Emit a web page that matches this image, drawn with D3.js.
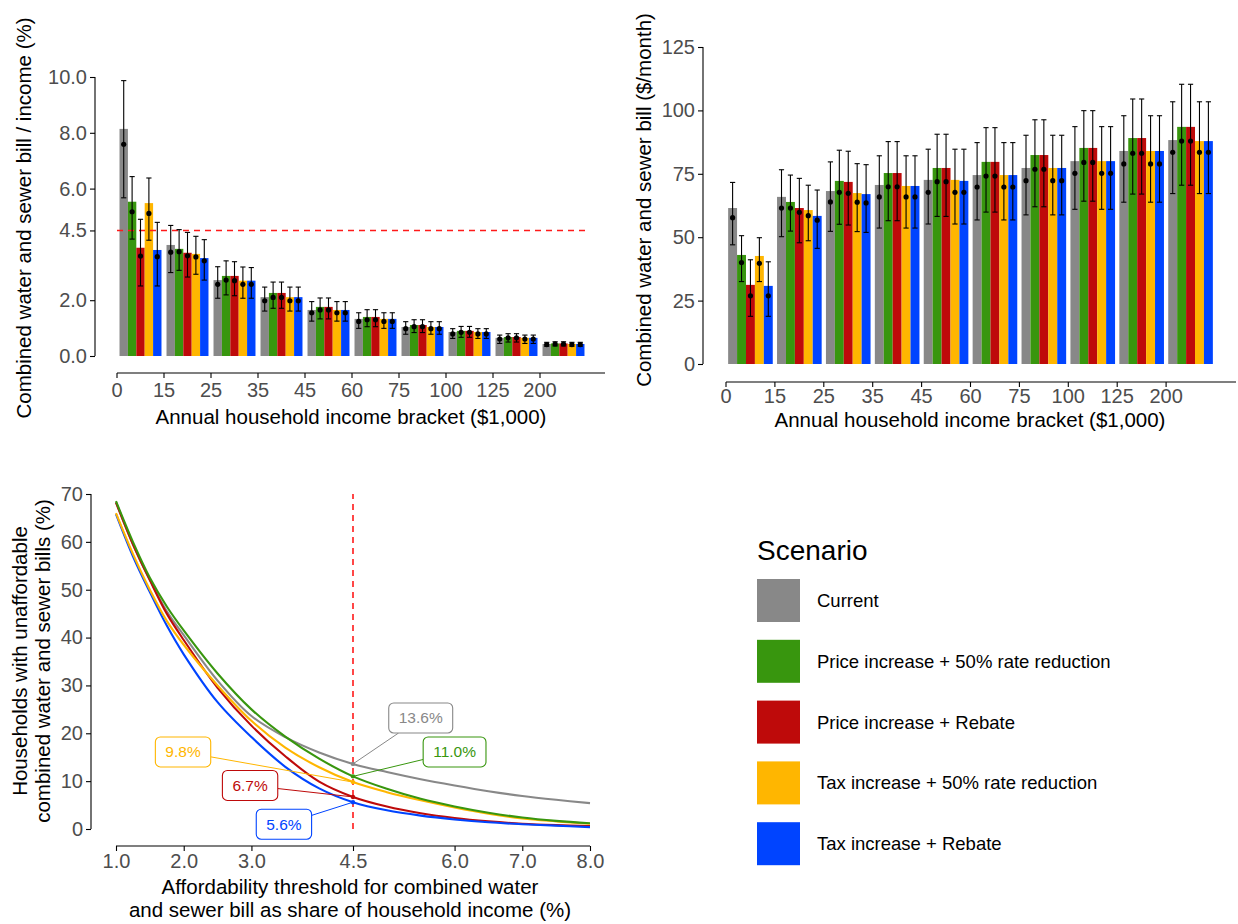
<!DOCTYPE html>
<html>
<head>
<meta charset="utf-8">
<script src="https://cdn.jsdelivr.net/npm/d3@7"></script>
<style>
  html, body { margin: 0; padding: 0; background: #fff; }
  svg { display: block; font-family: "Liberation Sans", Arial, Helvetica, sans-serif; }
</style>
</head>
<body>
<svg id="fig" width="1238" height="924"></svg>
<script>
// ---- Scenarios ----
const scenarios = [
  "Current",
  "Price increase + 50% rate reduction",
  "Price increase + Rebate",
  "Tax increase + 50% rate reduction",
  "Tax increase + Rebate"
];
const scenarioColors = ["#888888", "#38960e", "#be0a0a", "#ffb600", "#0044ff"];

// ---- Income brackets (lower bound, $1,000) ----
const incomeBrackets = ["0", "15", "25", "35", "45", "60", "75", "100", "125", "200"];

// ---- Bill as share of income (%), one row per scenario ----
const shareBar = [
  [8.14, 3.98, 2.72, 2.11, 1.65, 1.33, 1.04, 0.86, 0.65, 0.43],
  [5.53, 3.84, 2.87, 2.26, 1.76, 1.40, 1.11, 0.90, 0.68, 0.45],
  [3.88, 3.70, 2.87, 2.26, 1.76, 1.40, 1.11, 0.90, 0.68, 0.45],
  [5.48, 3.66, 2.70, 2.11, 1.65, 1.33, 1.04, 0.86, 0.65, 0.43],
  [3.80, 3.51, 2.70, 2.11, 1.65, 1.33, 1.04, 0.86, 0.65, 0.43]
];
const sharePoint = [
  [7.59, 3.72, 2.57, 1.98, 1.55, 1.24, 0.98, 0.79, 0.61, 0.41],
  [5.17, 3.74, 2.72, 2.10, 1.65, 1.30, 1.05, 0.85, 0.65, 0.43],
  [3.58, 3.59, 2.70, 2.10, 1.65, 1.30, 1.05, 0.85, 0.65, 0.43],
  [5.11, 3.55, 2.57, 1.98, 1.55, 1.24, 0.98, 0.79, 0.61, 0.41],
  [3.56, 3.41, 2.57, 1.98, 1.55, 1.24, 0.98, 0.79, 0.61, 0.41]
];
const shareLow = [
  [5.67, 2.99, 2.07, 1.61, 1.25, 0.99, 0.78, 0.63, 0.45, 0.35],
  [4.19, 3.07, 2.19, 1.71, 1.33, 1.05, 0.84, 0.67, 0.50, 0.36],
  [2.51, 2.83, 2.16, 1.71, 1.33, 1.05, 0.84, 0.67, 0.50, 0.36],
  [4.15, 2.93, 2.07, 1.61, 1.25, 0.99, 0.78, 0.63, 0.45, 0.35],
  [2.51, 2.72, 2.07, 1.61, 1.25, 0.99, 0.78, 0.63, 0.45, 0.35]
];
const shareHigh = [
  [9.87, 4.68, 3.20, 2.47, 1.95, 1.55, 1.23, 0.98, 0.75, 0.49],
  [6.43, 4.53, 3.41, 2.65, 2.08, 1.66, 1.30, 1.06, 0.80, 0.51],
  [4.90, 4.43, 3.38, 2.65, 2.08, 1.66, 1.30, 1.06, 0.80, 0.51],
  [6.38, 4.29, 3.19, 2.47, 1.95, 1.55, 1.23, 0.98, 0.75, 0.49],
  [4.79, 4.17, 3.17, 2.47, 1.95, 1.55, 1.23, 0.98, 0.75, 0.49]
];
const shareTicks = [0, 2, 4.5, 6, 8, 10];
const shareThreshold = 4.5;

// ---- Monthly bill ($/month), one row per scenario ----
const billBar = [
  [61.5, 65.9, 68.2, 70.6, 72.6, 74.5, 77.3, 80.0, 84.0, 88.3],
  [43.0, 63.9, 72.2, 75.3, 77.3, 79.7, 82.4, 85.2, 89.1, 93.5],
  [31.2, 61.5, 71.8, 75.3, 77.3, 79.7, 82.4, 85.2, 89.1, 93.5],
  [42.6, 60.7, 67.4, 70.2, 72.6, 74.5, 77.3, 80.0, 84.0, 87.9],
  [30.8, 58.4, 67.0, 70.2, 72.2, 74.5, 77.3, 80.0, 84.0, 87.9]
];
const billPoint = [
  [57.7, 61.5, 63.9, 65.9, 67.7, 69.8, 72.3, 75.2, 78.9, 83.5],
  [40.0, 61.5, 67.7, 69.9, 71.9, 74.1, 76.8, 79.5, 83.1, 87.9],
  [26.9, 59.8, 67.3, 69.9, 71.9, 74.1, 76.8, 79.5, 83.1, 87.9],
  [39.7, 58.5, 63.8, 65.9, 67.7, 69.8, 72.3, 75.2, 78.9, 83.5],
  [26.9, 56.7, 63.5, 65.9, 67.7, 69.8, 72.3, 75.2, 78.9, 83.5]
];
const billLow = [
  [47.0, 50.2, 52.3, 53.6, 55.2, 56.8, 58.8, 61.0, 63.8, 67.2],
  [32.5, 52.4, 55.1, 56.5, 58.2, 59.9, 62.0, 64.2, 67.0, 70.5],
  [18.8, 47.8, 54.8, 56.5, 58.2, 59.9, 62.0, 64.2, 67.0, 70.5],
  [32.5, 48.6, 52.2, 53.6, 55.2, 56.8, 58.8, 61.0, 63.8, 67.2],
  [18.8, 45.6, 51.9, 53.6, 55.2, 56.8, 58.8, 61.0, 63.8, 67.2]
];
const billHigh = [
  [71.6, 76.6, 79.7, 82.1, 84.7, 87.3, 90.2, 93.6, 97.9, 103.4],
  [50.6, 74.5, 84.3, 87.7, 90.6, 93.2, 96.3, 99.9, 104.5, 110.3],
  [41.1, 73.2, 83.9, 87.7, 90.6, 93.2, 96.3, 99.9, 104.5, 110.3],
  [49.8, 70.5, 79.0, 82.1, 84.7, 87.3, 90.2, 93.6, 97.9, 103.4],
  [40.3, 68.6, 78.6, 82.1, 84.7, 87.3, 90.2, 93.6, 97.9, 103.4]
];
const billTicks = [0, 25, 50, 75, 100, 125];

// ---- Share of households with unaffordable bills (%) by threshold ----
const thresholds = [1.0, 1.25, 1.5, 1.75, 2.0, 2.5, 3.0, 3.5, 4.0, 4.5, 5.0, 5.5, 6.0, 6.5, 7.0, 7.5, 8.0];
const unaffordable = [
  [68.3, 59.5, 52.0, 45.5, 40.5, 31.0, 23.6, 19.2, 16.0, 13.6, 11.9, 10.4, 9.1, 7.9, 6.9, 6.1, 5.4],
  [68.5, 60.0, 52.5, 46.5, 41.5, 32.5, 25.0, 19.3, 14.7, 11.0, 8.4, 6.3, 4.7, 3.4, 2.4, 1.7, 1.2],
  [68.2, 59.5, 52.0, 45.0, 39.5, 29.5, 21.6, 15.2, 9.9, 6.7, 4.7, 3.3, 2.3, 1.6, 1.1, 0.8, 0.6],
  [66.0, 57.5, 50.0, 43.5, 38.5, 30.0, 22.6, 17.0, 12.9, 9.8, 7.7, 6.0, 4.5, 3.2, 2.2, 1.6, 1.1],
  [65.8, 57.0, 49.5, 42.5, 36.5, 26.5, 19.2, 13.0, 8.5, 5.6, 3.9, 2.8, 2.0, 1.4, 1.0, 0.7, 0.4]
];
const thresholdTicks = [1, 2, 3, 4.5, 6, 7, 8];
const unaffordTicks = [0, 10, 20, 30, 40, 50, 60, 70];
const markedThreshold = 4.5;
// values at the marked threshold, in scenario order
const markedValues = [13.6, 11.0, 6.7, 9.8, 5.6];
// label box centres in data units (threshold, %), in scenario order
const labelAnchors = [[5.50, 23.2], [6.00, 16.1], [2.98, 9.1], [1.99, 16.1], [3.48, 1.0]];

// ---------------------------------------------------------------
const svg = d3.select("#fig");
const TICK_GREY = "#4d4d4d";

function styleAxis(g, fontSize) {
  g.selectAll(".domain").remove();
  g.selectAll(".tick line").attr("stroke", "#000").attr("stroke-width", 1.1);
  g.selectAll(".tick text").attr("fill", TICK_GREY).style("font-size", fontSize + "px")
    .attr("font-family", "Liberation Sans, Arial, sans-serif");
}

// grouped bar panel with error bars and points
function barPanel(opt) {
  const g = svg.append("g");
  const x = d3.scaleBand().domain(incomeBrackets).range([opt.x0, opt.x1]).paddingInner(0).paddingOuter(0);
  const xs = d3.scaleBand().domain(d3.range(scenarios.length)).range([0, x.bandwidth()]).paddingOuter(opt.sub).paddingInner(0);
  const y = d3.scaleLinear().domain(opt.yDomain).range([opt.yBottom, opt.yTop]);

  // bars
  scenarios.forEach((s, si) => {
    g.append("g").selectAll("rect").data(incomeBrackets).join("rect")
      .attr("x", (d) => x(d) + xs(si))
      .attr("width", xs.bandwidth())
      .attr("y", (d, i) => y(opt.bar[si][i]))
      .attr("height", (d, i) => y(0) - y(opt.bar[si][i]))
      .attr("fill", scenarioColors[si]);
  });

  if (opt.hline != null) {
    g.append("line")
      .attr("x1", opt.x0).attr("x2", opt.x1)
      .attr("y1", y(opt.hline)).attr("y2", y(opt.hline))
      .attr("stroke", "#ff1a1a").attr("stroke-width", 1.6).attr("stroke-dasharray", "6,5");
  }

  // error bars + points
  const cap = 2.6;
  scenarios.forEach((s, si) => {
    const eg = g.append("g");
    incomeBrackets.forEach((d, i) => {
      const cx = x(d) + xs(si) + xs.bandwidth() / 2;
      const lo = y(opt.low[si][i]), hi = y(opt.high[si][i]);
      eg.append("line").attr("x1", cx).attr("x2", cx).attr("y1", lo).attr("y2", hi)
        .attr("stroke", "#000").attr("stroke-width", 1.1);
      [lo, hi].forEach((yy) => eg.append("line").attr("x1", cx - cap).attr("x2", cx + cap)
        .attr("y1", yy).attr("y2", yy).attr("stroke", "#000").attr("stroke-width", 1.1));
      eg.append("circle").attr("cx", cx).attr("cy", y(opt.point[si][i])).attr("r", 2.6).attr("fill", "#000");
    });
  });

  // y axis
  const ya = g.append("g").attr("transform", `translate(${opt.yAxisX},0)`)
    .call(d3.axisLeft(y).tickValues(opt.yTicks).tickFormat(opt.yFormat).tickSize(5).tickPadding(3));
  styleAxis(ya, 20);
  g.append("line").attr("x1", opt.yAxisX).attr("x2", opt.yAxisX)
    .attr("y1", y(opt.yDomain[0])).attr("y2", y(opt.yDomain[1])).attr("stroke", "#000").attr("stroke-width", 1.1);

  // x axis: ticks at bracket lower bounds
  const xa = g.append("g").attr("transform", `translate(0,${opt.xAxisY})`);
  xa.append("line").attr("x1", opt.x0).attr("x2", opt.xAxisEnd).attr("y1", 0).attr("y2", 0)
    .attr("stroke", "#000").attr("stroke-width", 1.1);
  incomeBrackets.forEach((d) => {
    xa.append("line").attr("x1", x(d)).attr("x2", x(d)).attr("y1", 0).attr("y2", 5)
      .attr("stroke", "#000").attr("stroke-width", 1.1);
    xa.append("text").attr("x", x(d)).attr("y", opt.tickLabelY).attr("text-anchor", "middle")
      .attr("fill", TICK_GREY).style("font-size", "20px").text(d);
  });

  // titles
  g.append("text").attr("x", opt.xTitleX).attr("y", opt.xAxisY + opt.xTitleDy)
    .attr("text-anchor", "middle").style("font-size", "20.5px").attr("fill", "#000")
    .text("Annual household income bracket ($1,000)");
  g.append("text").attr("transform", `translate(${opt.yTitleX},${opt.yTitleY}) rotate(-90)`)
    .attr("text-anchor", "middle").style("font-size", "20.5px").attr("fill", "#000")
    .text(opt.yTitle);
}

barPanel({
  x0: 117, x1: 587, xAxisEnd: 605, xAxisY: 373, tickLabelY: 24,
  xTitleX: 351, xTitleDy: 51,
  yDomain: [0, 10], yBottom: 356, yTop: 77, yAxisX: 95,
  yTicks: shareTicks, yFormat: d3.format(".1f"), sub: 0.3,
  bar: shareBar, point: sharePoint, low: shareLow, high: shareHigh,
  hline: shareThreshold,
  yTitle: "Combined water and sewer bill / income (%)", yTitleX: 31, yTitleY: 218
});

barPanel({
  x0: 726, x1: 1215, xAxisEnd: 1236, xAxisY: 382, tickLabelY: 21,
  xTitleX: 970, xTitleDy: 45,
  yDomain: [0, 125], yBottom: 364, yTop: 47, yAxisX: 703,
  yTicks: billTicks, yFormat: d3.format("d"), sub: 0.24,
  bar: billBar, point: billPoint, low: billLow, high: billHigh,
  hline: null,
  yTitle: "Combined water and sewer bill ($/month)", yTitleX: 651, yTitleY: 200
});

// ---- unaffordability curves ----
(function () {
  const g = svg.append("g");
  const x = d3.scaleLinear().domain([1, 8]).range([116, 590]);
  const y = d3.scaleLinear().domain([0, 70]).range([829, 494]);

  g.append("line").attr("x1", x(markedThreshold)).attr("x2", x(markedThreshold))
    .attr("y1", y(0)).attr("y2", y(70))
    .attr("stroke", "#ff1a1a").attr("stroke-width", 1.6).attr("stroke-dasharray", "6,5");

  const line = d3.line().x((d) => x(d[0])).y((d) => y(d[1])).curve(d3.curveCatmullRom.alpha(0.5));
  // draw order keeps green/yellow above the grey reference line
  [0, 2, 4, 3, 1].forEach((si) => {
    g.append("path").datum(thresholds.map((t, i) => [t, unaffordable[si][i]]))
      .attr("d", line).attr("fill", "none").attr("stroke", scenarioColors[si]).attr("stroke-width", 2.1);
  });

  // labelled values at the marked threshold
  scenarios.forEach((s, si) => {
    const v = markedValues[si];
    const px = x(markedThreshold), py = y(v);
    const anchor = labelAnchors[si];
    const cx = x(anchor[0]), cy = y(anchor[1]);
    const txt = d3.format(".1f")(v) + "%";
    const lg = g.append("g");
    const t = lg.append("text").attr("x", cx).attr("y", cy).attr("dy", "0.35em")
      .attr("text-anchor", "middle").style("font-size", "15.5px").attr("fill", scenarioColors[si]).text(txt);
    const w = t.node().getComputedTextLength() + 20, h = 30;
    // leader from point to the box edge
    const dx = px - cx, dy = py - cy;
    const s2 = Math.min(Math.abs(dx) > 0 ? (w / 2) / Math.abs(dx) : Infinity, Math.abs(dy) > 0 ? (h / 2) / Math.abs(dy) : Infinity);
    const ex = cx + dx * Math.min(s2, 1), ey = cy + dy * Math.min(s2, 1);
    lg.insert("line", "text").attr("x1", px).attr("y1", py).attr("x2", ex).attr("y2", ey)
      .attr("stroke", scenarioColors[si]).attr("stroke-width", 1);
    lg.insert("rect", "text").attr("x", cx - w / 2).attr("y", cy - h / 2).attr("width", w).attr("height", h)
      .attr("rx", 5).attr("ry", 5).attr("fill", "#fff").attr("stroke", scenarioColors[si]).attr("stroke-width", 1.1);
    g.append("circle").attr("cx", px).attr("cy", py).attr("r", 2.2).attr("fill", scenarioColors[si]);
  });

  // axes
  const ya = g.append("g").attr("transform", "translate(91,0)")
    .call(d3.axisLeft(y).tickValues(unaffordTicks).tickFormat(d3.format("d")).tickSize(5).tickPadding(3));
  styleAxis(ya, 20);
  g.append("line").attr("x1", 91).attr("x2", 91).attr("y1", y(0)).attr("y2", y(70)).attr("stroke", "#000").attr("stroke-width", 1.1);

  const xa = g.append("g").attr("transform", "translate(0,846)")
    .call(d3.axisBottom(x).tickValues(thresholdTicks).tickFormat(d3.format(".1f")).tickSize(5).tickPadding(3));
  styleAxis(xa, 20);
  g.append("line").attr("x1", x(1)).attr("x2", x(8)).attr("y1", 846).attr("y2", 846).attr("stroke", "#000").attr("stroke-width", 1.1);

  g.append("text").attr("x", 350).attr("y", 894).attr("text-anchor", "middle")
    .style("font-size", "20.5px").text("Affordability threshold for combined water");
  g.append("text").attr("x", 350).attr("y", 917).attr("text-anchor", "middle")
    .style("font-size", "20.5px").text("and sewer bill as share of household income (%)");

  const yt = g.append("text").attr("transform", "translate(27,661) rotate(-90)").attr("text-anchor", "middle")
    .style("font-size", "20.5px");
  yt.append("tspan").attr("x", 0).attr("dy", 0).text("Households with unaffordable");
  yt.append("tspan").attr("x", 0).attr("dy", 23).text("combined water and sewer bills (%)");
})();

// ---- legend ----
(function () {
  const g = svg.append("g").attr("transform", "translate(757,0)");
  g.append("text").attr("x", 0).attr("y", 560).style("font-size", "28px").attr("fill", "#000").text("Scenario");
  scenarios.forEach((s, i) => {
    const top = 579 + i * 60.8;
    g.append("rect").attr("x", 0).attr("y", top).attr("width", 43).attr("height", 43).attr("fill", scenarioColors[i]);
    g.append("text").attr("x", 60).attr("y", top + 21.5).attr("dy", "0.35em")
      .style("font-size", "18.5px").attr("fill", "#000").text(s);
  });
})();
</script>
</body>
</html>
